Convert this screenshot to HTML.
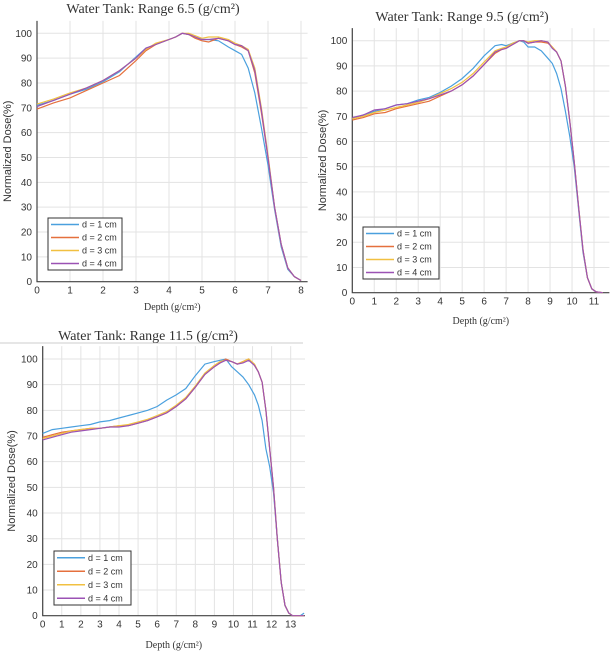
<!DOCTYPE html>
<html><head><meta charset="utf-8">
<style>
html,body{margin:0;padding:0;background:#fff;}
svg{display:block;}
text{font-family:"Liberation Sans",sans-serif;}
.t{font-family:"Liberation Serif",serif;fill:#333;}
</style></head>
<body>
<svg id="fig" width="614" height="653" viewBox="0 0 614 653"></svg>
<script>
const labels=["d = 1 cm","d = 2 cm","d = 3 cm","d = 4 cm"];
const colors=["#4aa0de","#e5703d","#f1c041","#9b52b4"];
// Chart 1: Range 6.5
const x1=[0,0.5,1,1.5,2,2.5,3,3.3,3.6,4,4.2,4.4,4.6,4.8,5,5.2,5.5,5.8,6,6.2,6.4,6.6,6.8,7,7.2,7.4,7.6,7.8,8];
const c1d1=[71,73,75.5,77.5,80.5,84.5,90.5,94,95.5,97.5,98.5,100,99.5,98,97.5,97.5,97,94.5,93,91.5,86,76,62,47,29,14,5,2,0.5];
const c1d2=[69.5,72,74,77,80,83,89,93,95.5,97.5,98.5,100,99.5,98,97,96.5,98,97,95.5,94.5,93,84,68,50,30,15,5.5,2,0.5];
const c1d3=[71.5,73.5,76,78,81,85,90,93.5,96,97.5,98.5,100,100,99,98,98.5,98.5,97.5,96,95,93.5,86,70,51,30,15,5.5,2,0.5];
const c1d4=[70.5,73,75.5,78,81,85,90,94,95.5,97.5,98.5,100,99.5,98.5,97.5,97.5,98,97,95.5,95,93,85,69,50,30,15,5.5,2,0.5];
// Chart 2: Range 9.5
const x2=[0,0.5,1,1.5,2,2.5,3,3.5,4,4.5,5,5.5,6,6.5,6.8,7,7.3,7.6,7.8,8,8.3,8.6,8.9,9.1,9.3,9.5,9.7,9.9,10.1,10.3,10.5,10.7,10.9,11.1,11.4];
const c2d1=[69,70.5,72,73,74.5,75,76.5,77.5,79.5,82,85,89,94,98,98.5,98,99,100,99.5,97.5,97.5,96,93,91,87,81,72,62,50,33,16,6,1.5,0.3,0];
const c2d2=[68.5,69.5,71,71.5,73,74,75,76,78,80,82.5,86,90.5,95,96.5,97,98.5,100,100,99,99.5,99.5,99,97.5,95.5,92,82,68,52,34,17,6,1.5,0.3,0];
const c2d3=[69,70,71.5,72.5,73.5,74.5,75.5,77,79,81,83.5,87,91.5,96,97,97.5,99,100,100,99.5,100,100,99.5,97.5,95.5,92,82,68,52,34,17,6,1.5,0.3,0];
const c2d4=[69.5,70.5,72.5,73,74.5,75,76,77,78.5,80,82.5,86,90.5,95.5,96.5,97,98.5,100,100,99,99.5,100,99.5,97,95.5,92,82,68,52,34,17,6,1.5,0.3,0];
// Chart 3: Range 11.5
const x3=[0,0.5,1,1.5,2,2.5,3,3.5,4,4.5,5,5.5,6,6.5,7,7.5,8,8.5,9,9.3,9.6,9.9,10.2,10.5,10.8,11.1,11.3,11.5,11.7,11.9,12.1,12.3,12.5,12.7,12.9,13.1,13.5,13.7];
const c3d1=[71,72.5,73,73.5,74,74.5,75.5,76,77,78,79,80,81.5,84,86,88.5,93.5,98,99,99.5,100,97,95,93,90,86,82,76,65,58,48,30,13,4,1,0,0,1];
const c3d2=[69.5,70.5,71.5,72,72.5,73,73,73.5,74,74,75,76,77.5,79,81.5,84.5,89,94,97,98.5,100,99,98,99,100,97.5,95,91,80,65,50,30,13,4,1,0,0,0];
const c3d3=[69,70,71,72,72.5,73,73,73.5,74,74.5,75.5,76.5,78,79.5,82,85,89.5,94.5,97.5,99,99.5,99,98,99,100,98,95,91,80,65,50,30,13,4,1,0,0,0];
const c3d4=[68.5,69.5,70.5,71.5,72,72.5,73,73.5,73.5,74,75,76,77.5,79,81.5,84.5,89,94,97,98.5,99.5,99,98,98.5,99.5,97.5,95,91,80,65,50,30,13,4,1,0,0,0];
const yTicks=[0,10,20,30,40,50,60,70,80,90,100];

const NS="http://www.w3.org/2000/svg";
const fig=document.getElementById('fig');
function mk(tag,attrs,parent){const e=document.createElementNS(NS,tag);for(const k in attrs)e.setAttribute(k,attrs[k]);(parent||fig).appendChild(e);return e;}

function chart(cfg){
  const g=mk('g',{});
  
  
  const sx=v=>cfg.x0+(v-0)*(cfg.px1-cfg.x0)/cfg.xv1;
  const sy=v=>cfg.y0-v*(cfg.y0-cfg.y100)/100;
  const L=sx(0),R=sx(cfg.xmax),B=sy(0),T=sy(105);
  const xt=[];for(let i=0;i<=cfg.xv1;i++)xt.push(i);
  xt.forEach(v=>{const l=mk('line',{x1:sx(v),x2:sx(v),y1:T,y2:B,stroke:'#e3e3e3','stroke-width':1},g);
    
    const t=mk('text',{x:sx(v),y:B+12,'font-size':10,'text-anchor':'middle',fill:'#333'},g);t.textContent=v;
    });
  yTicks.forEach(v=>{const l=mk('line',{x1:L,x2:R,y1:sy(v),y2:sy(v),stroke:'#e3e3e3','stroke-width':1},g);
    
    const t=mk('text',{x:L-5,y:sy(v)+3.5,'font-size':10,'text-anchor':'end',fill:'#333'},g);t.textContent=v;
    });
  const ax=mk('path',{d:`M${L},${T}V${B}H${R}`,stroke:'#444',fill:'none','stroke-width':1.2},g);
  
  cfg.series.forEach((s,i)=>{
    const d=cfg.xs.map((v,j)=>(j?'L':'M')+sx(v).toFixed(1)+','+sy(s[j]).toFixed(1)).join('');
    const p=mk('path',{d:d,stroke:colors[i],fill:'none','stroke-width':1.2},g);
    
  });
  const ti=mk('text',{x:cfg.tx,y:cfg.ty,'font-size':14,'text-anchor':'middle',class:'t'},g);ti.textContent=cfg.title;
  
  const xl=mk('text',{x:(L+R)/2,y:cfg.xly,'font-size':10,'text-anchor':'middle',class:'t'},g);xl.textContent='Depth (g/cm²)';
  
  const yl=mk('text',{x:0,y:0,'font-size':11,'text-anchor':'middle',fill:'#333',transform:`translate(${cfg.ylx},${(T+B)/2}) rotate(-90)`},g);yl.textContent='Normalized Dose(%)';
  
  const lg=cfg.lg;
  const box=mk('rect',{x:lg[0],y:lg[1],width:lg[2],height:lg[3],fill:'#fff',stroke:'#333','stroke-width':1},g);
  
  const rh=lg[3]/4;
  labels.forEach((lb,i)=>{const yy=lg[1]+rh*(i+0.5);
    const ln=mk('line',{x1:lg[0]+3,x2:lg[0]+31,y1:yy,y2:yy,stroke:colors[i],'stroke-width':1.4},g);
    
    const t=mk('text',{x:lg[0]+34,y:yy+3,'font-size':9,fill:'#333'},g);t.textContent=lb;
    });
}
chart({name:'chart-range-6-5',x0:37,px1:301,xv1:8,xmax:8.2,y0:281.7,y100:33.3,xs:x1,series:[c1d1,c1d2,c1d3,c1d4],
  title:'Water Tank: Range 6.5 (g/cm²)',tx:153,ty:13,xly:310,ylx:11,lg:[48,218,74,52]});
chart({name:'chart-range-9-5',x0:352.3,px1:594,xv1:11,xmax:11.7,y0:292.7,y100:40.7,xs:x2,series:[c2d1,c2d2,c2d3,c2d4],
  title:'Water Tank: Range 9.5 (g/cm²)',tx:462,ty:21,xly:324,ylx:326,lg:[363,227,76,52]});
const sep=mk('line',{x1:0,x2:303,y1:343,y2:343,stroke:'#ccc','stroke-width':1});


chart({name:'chart-range-11-5',x0:42.7,px1:290.7,xv1:13,xmax:13.75,y0:615.7,y100:359,xs:x3,series:[c3d1,c3d2,c3d3,c3d4],
  title:'Water Tank: Range 11.5 (g/cm²)',tx:148,ty:340,xly:648,ylx:15,lg:[54,551,77,54]});
</script>
</body></html>
